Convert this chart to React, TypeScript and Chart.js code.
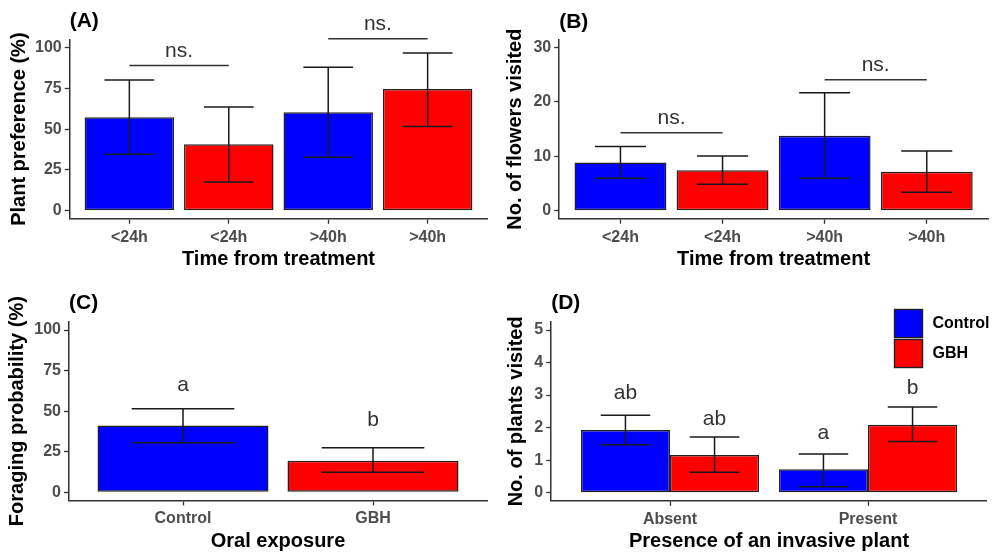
import React, { useEffect, useRef } from 'react';
import { Chart, registerables } from 'chart.js';

Chart.register(...registerables);

const FONT = '"Liberation Sans", Arial, Helvetica, sans-serif';

// ---------- Panel A: plant preference ----------
const aCategories = ['<24h', '<24h', '>40h', '>40h'];
const aGroups = ['Control', 'GBH', 'Control', 'GBH'];
const aValues = [57.3, 40.7, 60.3, 74.6];
const aLow = [34.6, 17.6, 32.7, 51.6];
const aHigh = [80.1, 63.6, 87.9, 96.7];
const aTicks = [0, 25, 50, 75, 100];
const aSigFrom = [0, 2];
const aSigTo = [1, 3];
const aSigLine = [89.0, 105.4];
const aSigText = ['ns.', 'ns.'];
const aSigTextY = [94.5, 110.6];

// ---------- Panel B: flowers visited ----------
const bCategories = ['<24h', '<24h', '>40h', '>40h'];
const bGroups = ['Control', 'GBH', 'Control', 'GBH'];
const bValues = [8.84, 7.44, 13.8, 7.18];
const bLow = [5.96, 4.86, 5.96, 3.39];
const bHigh = [11.8, 10.07, 21.7, 11.0];
const bTicks = [0, 10, 20, 30];
const bSigFrom = [0, 2];
const bSigTo = [1, 3];
const bSigLine = [14.36, 24.1];
const bSigText = ['ns.', 'ns.'];
const bSigTextY = [15.95, 25.7];

// ---------- Panel C: foraging probability ----------
const cCategories = ['Control', 'GBH'];
const cGroups = ['Control', 'GBH'];
const cValues = [41.1, 19.5];
const cLow = [30.6, 12.3];
const cHigh = [51.5, 27.5];
const cTicks = [0, 25, 50, 75, 100];
const cLetters = ['a', 'b'];
const cLetterY = [62.6, 41.0];

// ---------- Panel D: plants visited ----------
const dCategories = ['Absent', 'Present'];
const dSeries = ['Control', 'GBH'];
const dControl = [1.93, 0.72];
const dControlLow = [1.47, 0.18];
const dControlHigh = [2.38, 1.19];
const dGBH = [1.16, 2.09];
const dGBHLow = [0.63, 1.57];
const dGBHHigh = [1.71, 2.63];
const dControlLetters = ['ab', 'a'];
const dGBHLetters = ['ab', 'b'];
const dControlLetterY = [2.87, 1.64];
const dGBHLetterY = [2.08, 3.02];
const dTicks = [0, 1, 2, 3, 4, 5];

// ---------- styles ----------
const COLORS: Record<string, string> = { Control: '#0000FF', GBH: '#FF0000' };
const AXIS = '#333333';
const BAR_EDGE = '#222222';
const TICK_TEXT = '#4D4D4D';
const ERR = '#1A1A1A';

function makeExtras(p: any) {
  return {
    id: 'panelExtras_' + p.key,
    afterDatasetsDraw(chart: any) {
      const ctx = chart.ctx;
      const xs = chart.scales.x;
      const ys = chart.scales.y;
      ctx.save();
      // error bars
      const capHalf = (xs.getPixelForValue(1 + p.capWidth / 2) - xs.getPixelForValue(1 - p.capWidth / 2)) / 2;
      ctx.strokeStyle = ERR;
      ctx.lineWidth = 1.5;
      (p.errors || []).forEach((err: any, di: number) => {
        const meta = chart.getDatasetMeta(di);
        meta.data.forEach((bar: any, i: number) => {
          const px = bar.x;
          const yl = ys.getPixelForValue(err.low[i]);
          const yh = ys.getPixelForValue(err.high[i]);
          ctx.beginPath();
          ctx.moveTo(px - capHalf, yh);
          ctx.lineTo(px + capHalf, yh);
          ctx.moveTo(px, yh);
          ctx.lineTo(px, yl);
          ctx.moveTo(px - capHalf, yl);
          ctx.lineTo(px + capHalf, yl);
          ctx.stroke();
        });
      });
      // significance brackets
      ctx.font = `21px ${FONT}`;
      ctx.fillStyle = '#333333';
      ctx.textAlign = 'center';
      ctx.textBaseline = 'alphabetic';
      (p.sig || []).forEach((s: any) => {
        const x1 = xs.getPixelForValue(s.from + 1);
        const x2 = xs.getPixelForValue(s.to + 1);
        const yy = ys.getPixelForValue(s.line);
        ctx.strokeStyle = '#333333';
        ctx.lineWidth = 1.5;
        ctx.beginPath();
        ctx.moveTo(x1, yy);
        ctx.lineTo(x2, yy);
        ctx.stroke();
        ctx.fillText(s.text, (x1 + x2) / 2, ys.getPixelForValue(s.textY));
      });
      // letters above bars
      (p.letters || []).forEach((lt: any, di: number) => {
        const meta = chart.getDatasetMeta(di);
        meta.data.forEach((bar: any, i: number) => {
          ctx.fillText(lt.text[i], bar.x, ys.getPixelForValue(lt.y[i]));
        });
      });
      // legend
      if (p.legend) {
        const L = p.legend;
        L.items.forEach((name: string, i: number) => {
          const top = L.y + i * (L.box + L.gap);
          ctx.fillStyle = COLORS[name];
          ctx.fillRect(L.x, top, L.box, L.box);
          ctx.strokeStyle = BAR_EDGE;
          ctx.lineWidth = 1.4;
          ctx.strokeRect(L.x, top, L.box, L.box);
          ctx.fillStyle = '#000000';
          ctx.font = `bold 16px ${FONT}`;
          ctx.textAlign = 'left';
          ctx.textBaseline = 'middle';
          ctx.fillText(name, L.x + L.box + L.textGap, top + L.box / 2);
        });
      }
      ctx.restore();
    },
  };
}

function buildConfig(p: any) {
  const tickFont = { family: FONT, size: 16, weight: 'bold' as const };
  const titleFont = { family: FONT, size: 20, weight: 'bold' as const, lineHeight: 1.2 };
  return {
    type: 'bar' as const,
    data: { datasets: p.datasets },
    options: {
      animation: false as const,
      responsive: false,
      devicePixelRatio: 1,
      events: [],
      layout: { padding: { left: 0, right: p.padRight, top: 0, bottom: 0 } },
      datasets: { bar: { categoryPercentage: 0.9, barPercentage: 1.0 } },
      plugins: {
        legend: { display: false },
        tooltip: { enabled: false },
        title: {
          display: true,
          text: p.title,
          align: 'start' as const,
          fullSize: false,
          color: '#000000',
          font: { family: FONT, size: 21, weight: 'bold' as const, lineHeight: 1.2 },
          padding: { top: p.titleTop, bottom: p.titleBottom },
        },
      },
      scales: {
        x: {
          type: 'linear' as const,
          min: 0.4,
          max: p.categories.length + 0.6,
          offset: false,
          afterBuildTicks: (s: any) => {
            s.ticks = p.categories.map((_: string, i: number) => ({ value: i + 1 }));
          },
          afterFit: (s: any) => {
            s.height = p.xHeight;
          },
          ticks: {
            autoSkip: false,
            maxRotation: 0,
            padding: 4,
            color: TICK_TEXT,
            font: tickFont,
            callback: (_v: any, i: number) => p.categories[i],
          },
          grid: { display: true, offset: false, drawOnChartArea: false, drawTicks: true, tickLength: 5, tickColor: AXIS, tickWidth: 1.3 },
          border: { display: true, color: AXIS, width: 1.5 },
          title: {
            display: true,
            text: p.xTitle,
            color: '#000000',
            font: titleFont,
            padding: { top: 0, bottom: p.xTitlePad },
          },
        },
        y: {
          type: 'linear' as const,
          min: p.yMin,
          max: p.yMax,
          afterBuildTicks: (s: any) => {
            s.ticks = p.ticks.map((v: number) => ({ value: v }));
          },
          afterFit: (s: any) => {
            s.width = p.yWidth;
          },
          ticks: {
            padding: 3,
            color: TICK_TEXT,
            font: tickFont,
            callback: (v: any) => String(v),
          },
          grid: { display: true, drawOnChartArea: false, drawTicks: true, tickLength: 5, tickColor: AXIS, tickWidth: 1.3 },
          border: { display: true, color: AXIS, width: 1.5 },
          title: {
            display: true,
            text: p.yTitle,
            color: '#000000',
            font: titleFont,
            padding: { top: p.yTitlePad, bottom: 0 },
          },
        },
      },
    },
    plugins: [makeExtras(p)],
  };
}

function singleDataset(label: string, values: number[], groups: string[]) {
  return [{
    label,
    data: values.map((v, i) => ({ x: i + 1, y: v })),
    backgroundColor: groups.map((g) => COLORS[g]),
    borderColor: BAR_EDGE,
    borderWidth: 1.5,
    borderSkipped: false,
  }];
}

const panels: any[] = [
  {
    key: 'A', left: 0, top: 0, w: 500, h: 280,
    title: '(A)', titleTop: 8.4, titleBottom: 5.9,
    yWidth: 69.7, padRight: 12.7, xHeight: 61.2,
    yMin: -5, yMax: 105, ticks: aTicks,
    categories: aCategories,
    xTitle: 'Time from treatment', xTitlePad: 8.3,
    yTitle: 'Plant preference (%)', yTitlePad: 7,
    capWidth: 0.5,
    datasets: singleDataset('Plant preference', aValues, aGroups),
    errors: [{ low: aLow, high: aHigh }],
    sig: aSigFrom.map((f, i) => ({ from: f, to: aSigTo[i], line: aSigLine[i], text: aSigText[i], textY: aSigTextY[i] })),
  },
  {
    key: 'B', left: 500, top: 0, w: 499, h: 280,
    title: '(B)', titleTop: 9.4, titleBottom: 4.9,
    yWidth: 59.2, padRight: 11, xHeight: 61.2,
    yMin: -1.5, yMax: 31.5, ticks: bTicks,
    categories: bCategories,
    xTitle: 'Time from treatment', xTitlePad: 9,
    yTitle: 'No. of flowers visited', yTitlePad: 3.6,
    capWidth: 0.5,
    datasets: singleDataset('Flowers visited', bValues, bGroups),
    errors: [{ low: bLow, high: bHigh }],
    sig: bSigFrom.map((f, i) => ({ from: f, to: bSigTo[i], line: bSigLine[i], text: bSigText[i], textY: bSigTextY[i] })),
  },
  {
    key: 'C', left: 0, top: 280, w: 500, h: 277,
    title: '(C)', titleTop: 10.7, titleBottom: 6,
    yWidth: 69, padRight: 13, xHeight: 56.6,
    yMin: -5, yMax: 105, ticks: cTicks,
    categories: cCategories,
    xTitle: 'Oral exposure', xTitlePad: 3.7,
    yTitle: 'Foraging probability (%)', yTitlePad: 5.3,
    capWidth: 0.54,
    datasets: singleDataset('Foraging probability', cValues, cGroups),
    errors: [{ low: cLow, high: cHigh }],
    letters: [{ text: cLetters, y: cLetterY }],
  },
  {
    key: 'D', left: 500, top: 280, w: 499, h: 277,
    title: '(D)', titleTop: 10.7, titleBottom: 6,
    yWidth: 51.2, padRight: 12.2, xHeight: 56.2,
    yMin: -0.25, yMax: 5.25, ticks: dTicks,
    categories: dCategories,
    xTitle: 'Presence of an invasive plant', xTitlePad: 3.7,
    yTitle: 'No. of plants visited', yTitlePad: 4.6,
    capWidth: 0.25,
    datasets: [
      {
        label: dSeries[0],
        data: dControl.map((v, i) => ({ x: i + 1, y: v })),
        backgroundColor: COLORS[dSeries[0]],
        borderColor: BAR_EDGE, borderWidth: 1.5, borderSkipped: false,
      },
      {
        label: dSeries[1],
        data: dGBH.map((v, i) => ({ x: i + 1, y: v })),
        backgroundColor: COLORS[dSeries[1]],
        borderColor: BAR_EDGE, borderWidth: 1.5, borderSkipped: false,
      },
    ],
    errors: [{ low: dControlLow, high: dControlHigh }, { low: dGBHLow, high: dGBHHigh }],
    letters: [{ text: dControlLetters, y: dControlLetterY }, { text: dGBHLetters, y: dGBHLetterY }],
    legend: { items: dSeries, x: 394.5, y: 29.5, box: 28, gap: 2, textGap: 10 },
  },
];

function Panel({ p }: { p: any }) {
  const ref = useRef<HTMLCanvasElement>(null);
  useEffect(() => {
    if (!ref.current) return;
    const chart = new Chart(ref.current, buildConfig(p) as any);
    return () => chart.destroy();
  }, [p]);
  return (
    <canvas
      ref={ref}
      width={p.w}
      height={p.h}
      style={{ position: 'absolute', left: p.left, top: p.top, width: p.w, height: p.h }}
    />
  );
}

export default function App() {
  useEffect(() => {
    document.body.style.margin = '0';
    document.body.style.background = '#ffffff';
  }, []);
  return (
    <div style={{ position: 'absolute', left: 0, top: 0, width: 999, height: 557, background: '#ffffff' }}>
      {panels.map((p) => (
        <Panel key={p.key} p={p} />
      ))}
    </div>
  );
}
